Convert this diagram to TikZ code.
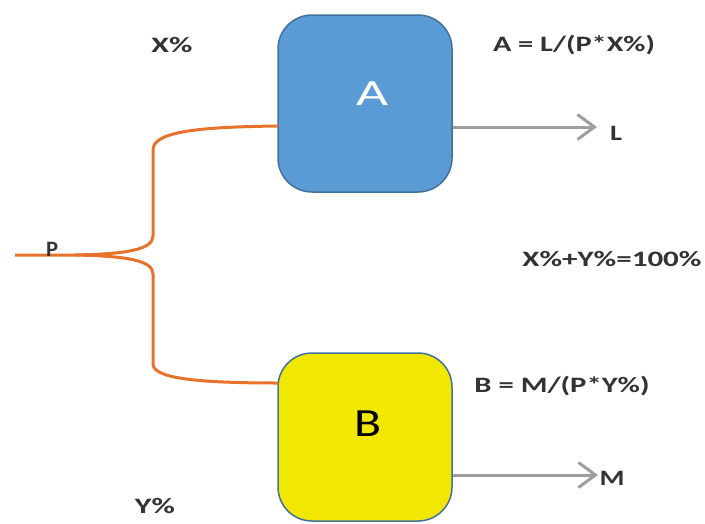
\documentclass[tikz,border=0pt]{standalone}
\usepackage{fontspec}
\usepackage{graphicx}
\setmainfont{Carlito}
\usetikzlibrary{arrows.meta}
\definecolor{boxblue}{HTML}{5B9BD5}
\definecolor{boxblueline}{HTML}{41719C}
\definecolor{boxyellow}{HTML}{F2E700}
\definecolor{wireorange}{HTML}{E8712C}
\definecolor{arrowgray}{HTML}{9E9E9E}
\newcommand{\widetxt}[2]{\resizebox{#1}{\height}{#2}}
\tikzset{
  unitbox/.style={draw=boxblueline, line width=1.5pt, rounded corners=34pt, minimum width=174pt, inner sep=0pt},
  wire/.style={draw=wireorange, line width=3pt},
  outarrow/.style={draw=arrowgray, line width=3pt, -{Straight Barb[length=17pt,width=25pt,line width=3pt]}},
  lbl/.style={font=\fontsize{22pt}{24pt}\selectfont\bfseries, text=black!80, inner sep=0pt},
}
\begin{document}
\begin{tikzpicture}[x=1pt,y=-1pt]
\useasboundingbox (0,0) rectangle (705,523);
\clip (0,0) rectangle (705,523);
% boxes
\node[unitbox, fill=boxblue, minimum height=177pt] (A) at (365,103.5) {};
\node[unitbox, fill=boxyellow, minimum height=168pt] (B) at (365,437) {};
\node[font=\fontsize{37pt}{40pt}\selectfont, text=white, inner sep=0pt] (Alab) at (372,94) {\widetxt{32pt}{A}};
\node[font=\fontsize{40pt}{42pt}\selectfont, text=black, inner sep=0pt] (Blab) at (368,424) {\widetxt{27pt}{B}};
% wire coordinates
\coordinate (p0) at (15,255);
\coordinate (ain) at (278,126);
\coordinate (bin) at (278,383);
\draw[wire] (p0) -- (75,255)
  .. controls (125,254) and (153,250) .. (153,236)
  -- (153,150)
  .. controls (153,132) and (195,127) .. (ain);
\draw[wire] (75,255)
  .. controls (125,256) and (153,260) .. (153,274)
  -- (153,364)
  .. controls (153,378) and (195,383) .. (bin);
% output arrows
\coordinate (aout) at (453,127);
\coordinate (bout) at (453,475);
\node[lbl] (L) at (616,133) {\widetxt{12pt}{L}};
\node[lbl] (M) at (612,478) {\widetxt{25pt}{M}};
\draw[outarrow] (aout) -- (597,127);
\draw[outarrow] (bout) -- (598,475);
% labels
\node[lbl] (P) at (52,249) {\widetxt{12pt}{P}};
\node[lbl] (X) at (172,45) {\widetxt{41pt}{X\%}};
\node[lbl] (Y) at (155,506) {\widetxt{40pt}{Y\%}};
\node[lbl] (eqA) at (574,45) {\widetxt{162pt}{A = L/(P*X\%)}};
\node[lbl] (eqB) at (562,386) {\widetxt{175pt}{B = M/(P*Y\%)}};
\node[lbl] (sum) at (612,259) {\widetxt{179pt}{X\%+Y\%=100\%}};
\end{tikzpicture}
\end{document}
